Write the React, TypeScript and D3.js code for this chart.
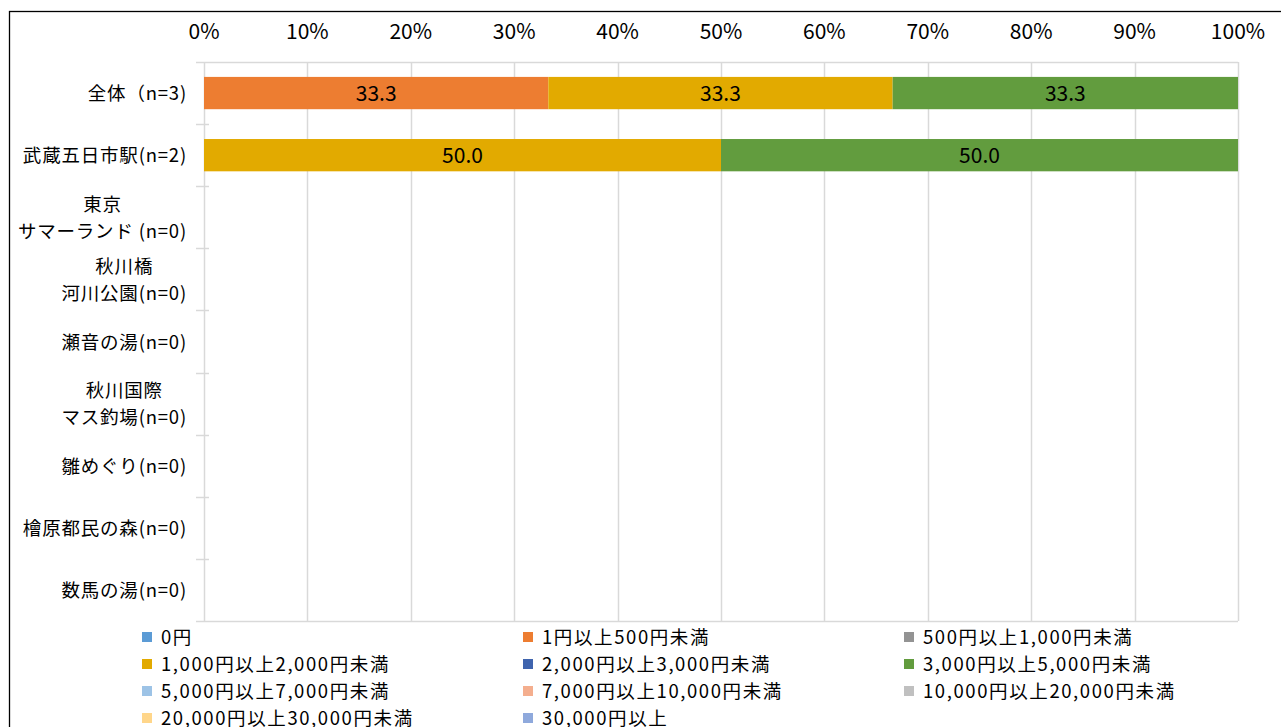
import React, { useEffect, useRef } from "react";
import * as d3 from "d3";

const categories: string[][] = [
  ["全体（n=3)"],
  ["武蔵五日市駅(n=2)"],
  ["東京", "サマーランド (n=0)"],
  ["秋川橋", "河川公園(n=0)"],
  ["瀬音の湯(n=0)"],
  ["秋川国際", "マス釣場(n=0)"],
  ["雛めぐり(n=0)"],
  ["檜原都民の森(n=0)"],
  ["数馬の湯(n=0)"],
];

const seriesNames: string[] = [
  "0円",
  "1円以上500円未満",
  "500円以上1,000円未満",
  "1,000円以上2,000円未満",
  "2,000円以上3,000円未満",
  "3,000円以上5,000円未満",
  "5,000円以上7,000円未満",
  "7,000円以上10,000円未満",
  "10,000円以上20,000円未満",
  "20,000円以上30,000円未満",
  "30,000円以上",
];

const seriesColors: string[] = [
  "#5B9BD5",
  "#ED7D31",
  "#939393",
  "#E2AA00",
  "#3F64AE",
  "#629C3E",
  "#9DC3E6",
  "#F4AE8E",
  "#C0C0C0",
  "#FFD68A",
  "#8FA9DC",
];

// values[categoryIndex][seriesIndex] in %
const values: number[][] = [
  [0, 33.3, 0, 33.3, 0, 33.3, 0, 0, 0, 0, 0],
  [0, 0, 0, 50.0, 0, 50.0, 0, 0, 0, 0, 0],
  [0, 0, 0, 0, 0, 0, 0, 0, 0, 0, 0],
  [0, 0, 0, 0, 0, 0, 0, 0, 0, 0, 0],
  [0, 0, 0, 0, 0, 0, 0, 0, 0, 0, 0],
  [0, 0, 0, 0, 0, 0, 0, 0, 0, 0, 0],
  [0, 0, 0, 0, 0, 0, 0, 0, 0, 0, 0],
  [0, 0, 0, 0, 0, 0, 0, 0, 0, 0, 0],
  [0, 0, 0, 0, 0, 0, 0, 0, 0, 0, 0],
];

const xTicks: number[] = [0, 10, 20, 30, 40, 50, 60, 70, 80, 90, 100];

const W = 1281;
const H = 727;
const FONT = "'Noto Sans CJK JP', 'Noto Sans', sans-serif";

export default function App() {
  const ref = useRef<SVGSVGElement | null>(null);

  useEffect(() => {
    const svg = d3.select(ref.current);
    svg.selectAll("*").remove();

    const left = 204;
    const right = 1238;
    const top = 62;
    const bottom = 621;

    const x = d3.scaleLinear().domain([0, 100]).range([left, right]);
    const y = d3
      .scaleBand<number>()
      .domain(categories.map((_, i) => i))
      .range([top, bottom])
      .paddingInner(0.48)
      .paddingOuter(0.24);

    svg
      .append("rect")
      .attr("x", 0)
      .attr("y", 0)
      .attr("width", W)
      .attr("height", H)
      .attr("fill", "#fff");

    svg
      .append("rect")
      .attr("x", 9.5)
      .attr("y", 11.5)
      .attr("width", W + 20)
      .attr("height", H + 20)
      .attr("fill", "none")
      .attr("stroke", "#000")
      .attr("stroke-width", 1.3);

    // gridlines
    svg
      .append("g")
      .selectAll("line")
      .data(xTicks)
      .join("line")
      .attr("x1", (d) => Math.round(x(d)) + 0.5)
      .attr("x2", (d) => Math.round(x(d)) + 0.5)
      .attr("y1", top)
      .attr("y2", bottom)
      .attr("stroke", "#D9D9D9")
      .attr("stroke-width", 1.5);

    // top & bottom lines
    [top, bottom].forEach((yy) => {
      svg
        .append("line")
        .attr("x1", left - 8)
        .attr("x2", right)
        .attr("y1", yy + 0.5)
        .attr("y2", yy + 0.5)
        .attr("stroke", "#D9D9D9")
        .attr("stroke-width", 1.5);
    });

    // category tick marks
    const step = (bottom - top) / categories.length;
    svg
      .append("g")
      .selectAll("line")
      .data(d3.range(1, categories.length))
      .join("line")
      .attr("x1", left - 8)
      .attr("x2", left + 5)
      .attr("y1", (d) => Math.round(top + d * step) + 0.5)
      .attr("y2", (d) => Math.round(top + d * step) + 0.5)
      .attr("stroke", "#D9D9D9")
      .attr("stroke-width", 1.5);

    // x tick labels
    svg
      .append("g")
      .selectAll("text")
      .data(xTicks)
      .join("text")
      .attr("x", (d) => x(d))
      .attr("y", 39)
      .attr("text-anchor", "middle")
      .attr("font-family", FONT)
      .attr("font-size", 21)
      .attr("fill", "#000")
      .text((d) => `${d}%`);

    // bars
    const barG = svg.append("g");
    categories.forEach((_, ci) => {
      let acc = 0;
      values[ci].forEach((v, si) => {
        if (v <= 0) return;
        const x0 = x(acc);
        const x1 = x(acc + v > 99.8 ? 100 : acc + v);
        barG
          .append("rect")
          .attr("x", x0)
          .attr("y", y(ci)!)
          .attr("width", x1 - x0)
          .attr("height", y.bandwidth())
          .attr("fill", seriesColors[si]);
        barG
          .append("text")
          .attr("x", (x0 + x1) / 2)
          .attr("y", y(ci)! + y.bandwidth() / 2 + 8)
          .attr("text-anchor", "middle")
          .attr("font-family", FONT)
          .attr("font-size", 21)
          .attr("fill", "#000")
          .text(v.toFixed(1));
        acc += v;
      });
    });

    // category labels
    const labelG = svg.append("g");
    const labelRight = 187;
    categories.forEach((lines, ci) => {
      const cy = top + (ci + 0.5) * step;
      const g = labelG.append("g");
      const lh = 27;
      const texts = lines.map((ln, li) =>
        g
          .append("text")
          .attr("y", cy + (li - (lines.length - 1) / 2) * lh + 7)
          .attr("font-family", FONT)
          .attr("font-size", 18.5)
          .attr("letter-spacing", 0.8)
          .attr("fill", "#000")
          .text(ln)
      );
      const widths = texts.map((t) => (t.node() as SVGTextElement).getComputedTextLength());
      const maxW = Math.max(...widths);
      texts.forEach((t) => {
        t.attr("x", labelRight - maxW / 2).attr("text-anchor", "middle");
      });
    });

    // legend
    const legendCols = [142, 523, 904];
    const legendRows = [637, 664, 691, 718];
    const lg = svg.append("g");
    seriesNames.forEach((name, i) => {
      const cx = legendCols[i % 3];
      const cy = legendRows[Math.floor(i / 3)];
      lg.append("rect")
        .attr("x", cx)
        .attr("y", cy - 5)
        .attr("width", 10)
        .attr("height", 10)
        .attr("fill", seriesColors[i]);
      lg.append("text")
        .attr("x", cx + 19)
        .attr("y", cy + 7)
        .attr("font-family", FONT)
        .attr("font-size", 18.5)
        .attr("letter-spacing", 1.6)
        .attr("fill", "#000")
        .text(name);
    });
  }, []);

  return (
    <svg
      ref={ref}
      width={W}
      height={H}
      style={{ position: "absolute", left: 0, top: 0, display: "block" }}
    />
  );
}
